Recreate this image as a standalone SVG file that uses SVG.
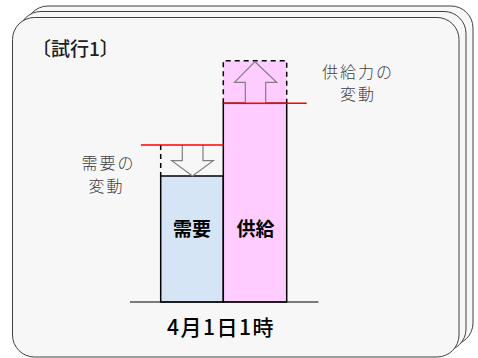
<svg xmlns="http://www.w3.org/2000/svg" width="478" height="358" viewBox="0 0 478 358">
<style>
.card{fill:#f7f7f7;stroke:#404040;stroke-width:1}
.bar{stroke:#000;stroke-width:1.5}
.dash{fill:none;stroke:#000;stroke-width:1.5;stroke-dasharray:5,4}
.arrow{stroke:#7f7f7f;stroke-width:1.2}
.red{stroke:#ff0000;stroke-width:1.5}
.lbl{font-family:"Noto Sans CJK JP","Noto Sans",sans-serif;fill:#404040;font-size:16px;font-weight:300;text-anchor:middle;letter-spacing:2px}
.in{font-family:"Noto Sans CJK JP","Noto Sans",sans-serif;fill:#000;font-size:19px;font-weight:bold;text-anchor:middle}
</style>
<rect width="478" height="358" fill="#ffffff"/>
<g id="cards">
<rect class="card" x="26" y="6" width="447" height="339" rx="22"/>
<rect class="card" x="19" y="11.5" width="447" height="339.5" rx="22"/>
<rect class="card" x="12.5" y="17.5" width="446.5" height="339.5" rx="22"/>
</g>
<text id="title" x="32" y="56" font-family="'Noto Sans CJK JP','Noto Sans',sans-serif" font-size="19" font-weight="500" fill="#202020">〔試行1〕</text>
<g id="supply-change-box">
<rect x="223.3" y="60.7" width="63.4" height="42.6" fill="#ffccff"/>
<path class="dash" d="M223.3,103.3 V60.7 H286.7 V103.3"/>
</g>
<g id="demand-change-box">
<path class="dash" d="M160.7,145 V176"/>
</g>
<g id="demand">
<rect class="bar" x="160.7" y="176" width="62.6" height="126" fill="#d5e5f6"/>
<text class="in" x="192" y="236">需要</text>
</g>
<g id="supply">
<rect class="bar" x="223.3" y="103.3" width="63.4" height="198.7" fill="#ffccff"/>
<text class="in" x="255.5" y="236">供給</text>
</g>
<g id="up-arrow">
<path class="arrow" fill="#ffccff" d="M245.3,103.3 V82.3 H234.5 L255,61.7 L276.7,82.3 H265.7 V103.3"/>
</g>
<g id="down-arrow">
<path class="arrow" fill="#f7f7f7" d="M182.3,145 V160.7 H171.7 L192.5,176 L213.3,160.7 H203 V145"/>
</g>
<g id="connectors">
<line class="red" x1="223.3" y1="103.3" x2="306.7" y2="103.3"/>
<line class="red" x1="141" y1="145" x2="223.3" y2="145"/>
<line x1="130" y1="302" x2="318.5" y2="302" stroke="#000" stroke-width="1.2"/>
</g>
<g id="supply-label">
<text class="lbl" x="358" y="78">供給力の</text>
<text class="lbl" x="358" y="100">変動</text>
</g>
<g id="demand-label">
<text class="lbl" x="108.5" y="169">需要の</text>
<text class="lbl" x="106.5" y="192">変動</text>
</g>
<text id="date" x="221" y="335" font-family="'Noto Sans CJK JP','Noto Sans',sans-serif" font-size="21" font-weight="500" fill="#000" text-anchor="middle" letter-spacing="1.5">4月1日1時</text>
</svg>
